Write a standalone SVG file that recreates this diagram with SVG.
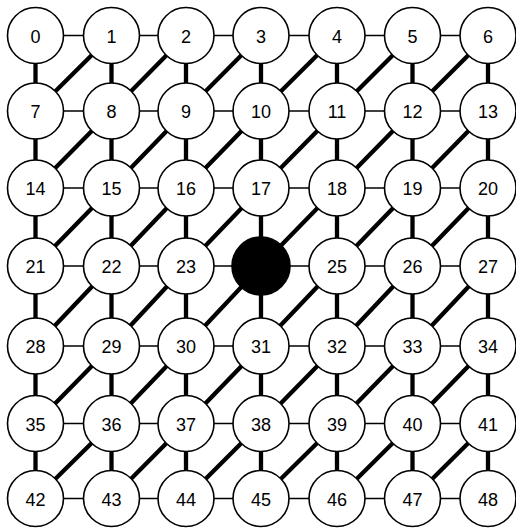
<svg xmlns="http://www.w3.org/2000/svg" width="516" height="532" viewBox="0 0 516 532">
<style>
.h{stroke:#000;stroke-width:1.6}
.t{stroke:#000;stroke-width:4.3}
.n circle{fill:#fff;stroke:#000;stroke-width:1.6}
.n text{font-family:"Liberation Sans",Arial,sans-serif;font-size:18px;text-anchor:middle;fill:#000}
</style>
<rect width="516" height="532" fill="#fff"/>
<g id="connectors">
<line class="h" x1="35.5" y1="35.5" x2="488" y2="35.5"/>
<line class="h" x1="35.5" y1="111" x2="488" y2="111"/>
<line class="h" x1="35.5" y1="188" x2="488" y2="188"/>
<line class="h" x1="35.5" y1="266" x2="488" y2="266"/>
<line class="h" x1="35.5" y1="346" x2="488" y2="346"/>
<line class="h" x1="35.5" y1="423.5" x2="488" y2="423.5"/>
<line class="h" x1="35.5" y1="498.5" x2="488" y2="498.5"/>
<line class="t" x1="35.5" y1="35.5" x2="35.5" y2="498.5"/>
<line class="t" x1="111.5" y1="35.5" x2="111.5" y2="498.5"/>
<line class="t" x1="186" y1="35.5" x2="186" y2="498.5"/>
<line class="t" x1="261" y1="35.5" x2="261" y2="498.5"/>
<line class="t" x1="337" y1="35.5" x2="337" y2="498.5"/>
<line class="t" x1="412.5" y1="35.5" x2="412.5" y2="498.5"/>
<line class="t" x1="488" y1="35.5" x2="488" y2="498.5"/>
<path class="t" fill="none" d="
M35.5 111L111.5 35.5 M111.5 111L186 35.5 M186 111L261 35.5 M261 111L337 35.5 M337 111L412.5 35.5 M412.5 111L488 35.5
M35.5 188L111.5 111 M111.5 188L186 111 M186 188L261 111 M261 188L337 111 M337 188L412.5 111 M412.5 188L488 111
M35.5 266L111.5 188 M111.5 266L186 188 M186 266L261 188 M261 266L337 188 M337 266L412.5 188 M412.5 266L488 188
M35.5 346L111.5 266 M111.5 346L186 266 M186 346L261 266 M261 346L337 266 M337 346L412.5 266 M412.5 346L488 266
M35.5 423.5L111.5 346 M111.5 423.5L186 346 M186 423.5L261 346 M261 423.5L337 346 M337 423.5L412.5 346 M412.5 423.5L488 346
M35.5 498.5L111.5 423.5 M111.5 498.5L186 423.5 M186 498.5L261 423.5 M261 498.5L337 423.5 M337 498.5L412.5 423.5 M412.5 498.5L488 423.5"/>
</g>
<g id="n0" class="n"><circle cx="35.5" cy="35.5" r="28"/><text x="35.5" y="42.5">0</text></g>
<g id="n1" class="n"><circle cx="111.5" cy="35.5" r="28"/><text x="111.5" y="42.5">1</text></g>
<g id="n2" class="n"><circle cx="186" cy="35.5" r="28"/><text x="186" y="42.5">2</text></g>
<g id="n3" class="n"><circle cx="261" cy="35.5" r="28"/><text x="261" y="42.5">3</text></g>
<g id="n4" class="n"><circle cx="337" cy="35.5" r="28"/><text x="337" y="42.5">4</text></g>
<g id="n5" class="n"><circle cx="412.5" cy="35.5" r="28"/><text x="412.5" y="42.5">5</text></g>
<g id="n6" class="n"><circle cx="488" cy="35.5" r="28"/><text x="488" y="42.5">6</text></g>
<g id="n7" class="n"><circle cx="35.5" cy="111" r="28"/><text x="35.5" y="118">7</text></g>
<g id="n8" class="n"><circle cx="111.5" cy="111" r="28"/><text x="111.5" y="118">8</text></g>
<g id="n9" class="n"><circle cx="186" cy="111" r="28"/><text x="186" y="118">9</text></g>
<g id="n10" class="n"><circle cx="261" cy="111" r="28"/><text x="261" y="118">10</text></g>
<g id="n11" class="n"><circle cx="337" cy="111" r="28"/><text x="337" y="118">11</text></g>
<g id="n12" class="n"><circle cx="412.5" cy="111" r="28"/><text x="412.5" y="118">12</text></g>
<g id="n13" class="n"><circle cx="488" cy="111" r="28"/><text x="488" y="118">13</text></g>
<g id="n14" class="n"><circle cx="35.5" cy="188" r="28"/><text x="35.5" y="195">14</text></g>
<g id="n15" class="n"><circle cx="111.5" cy="188" r="28"/><text x="111.5" y="195">15</text></g>
<g id="n16" class="n"><circle cx="186" cy="188" r="28"/><text x="186" y="195">16</text></g>
<g id="n17" class="n"><circle cx="261" cy="188" r="28"/><text x="261" y="195">17</text></g>
<g id="n18" class="n"><circle cx="337" cy="188" r="28"/><text x="337" y="195">18</text></g>
<g id="n19" class="n"><circle cx="412.5" cy="188" r="28"/><text x="412.5" y="195">19</text></g>
<g id="n20" class="n"><circle cx="488" cy="188" r="28"/><text x="488" y="195">20</text></g>
<g id="n21" class="n"><circle cx="35.5" cy="266" r="28"/><text x="35.5" y="273">21</text></g>
<g id="n22" class="n"><circle cx="111.5" cy="266" r="28"/><text x="111.5" y="273">22</text></g>
<g id="n23" class="n"><circle cx="186" cy="266" r="28"/><text x="186" y="273">23</text></g>
<g id="n24"><circle cx="261" cy="266" r="29" fill="#000" stroke="#000" stroke-width="1.6"/></g>
<g id="n25" class="n"><circle cx="337" cy="266" r="28"/><text x="337" y="273">25</text></g>
<g id="n26" class="n"><circle cx="412.5" cy="266" r="28"/><text x="412.5" y="273">26</text></g>
<g id="n27" class="n"><circle cx="488" cy="266" r="28"/><text x="488" y="273">27</text></g>
<g id="n28" class="n"><circle cx="35.5" cy="346" r="28"/><text x="35.5" y="353">28</text></g>
<g id="n29" class="n"><circle cx="111.5" cy="346" r="28"/><text x="111.5" y="353">29</text></g>
<g id="n30" class="n"><circle cx="186" cy="346" r="28"/><text x="186" y="353">30</text></g>
<g id="n31" class="n"><circle cx="261" cy="346" r="28"/><text x="261" y="353">31</text></g>
<g id="n32" class="n"><circle cx="337" cy="346" r="28"/><text x="337" y="353">32</text></g>
<g id="n33" class="n"><circle cx="412.5" cy="346" r="28"/><text x="412.5" y="353">33</text></g>
<g id="n34" class="n"><circle cx="488" cy="346" r="28"/><text x="488" y="353">34</text></g>
<g id="n35" class="n"><circle cx="35.5" cy="423.5" r="28"/><text x="35.5" y="430.5">35</text></g>
<g id="n36" class="n"><circle cx="111.5" cy="423.5" r="28"/><text x="111.5" y="430.5">36</text></g>
<g id="n37" class="n"><circle cx="186" cy="423.5" r="28"/><text x="186" y="430.5">37</text></g>
<g id="n38" class="n"><circle cx="261" cy="423.5" r="28"/><text x="261" y="430.5">38</text></g>
<g id="n39" class="n"><circle cx="337" cy="423.5" r="28"/><text x="337" y="430.5">39</text></g>
<g id="n40" class="n"><circle cx="412.5" cy="423.5" r="28"/><text x="412.5" y="430.5">40</text></g>
<g id="n41" class="n"><circle cx="488" cy="423.5" r="28"/><text x="488" y="430.5">41</text></g>
<g id="n42" class="n"><circle cx="35.5" cy="498.5" r="28"/><text x="35.5" y="505.5">42</text></g>
<g id="n43" class="n"><circle cx="111.5" cy="498.5" r="28"/><text x="111.5" y="505.5">43</text></g>
<g id="n44" class="n"><circle cx="186" cy="498.5" r="28"/><text x="186" y="505.5">44</text></g>
<g id="n45" class="n"><circle cx="261" cy="498.5" r="28"/><text x="261" y="505.5">45</text></g>
<g id="n46" class="n"><circle cx="337" cy="498.5" r="28"/><text x="337" y="505.5">46</text></g>
<g id="n47" class="n"><circle cx="412.5" cy="498.5" r="28"/><text x="412.5" y="505.5">47</text></g>
<g id="n48" class="n"><circle cx="488" cy="498.5" r="28"/><text x="488" y="505.5">48</text></g>
</svg>
